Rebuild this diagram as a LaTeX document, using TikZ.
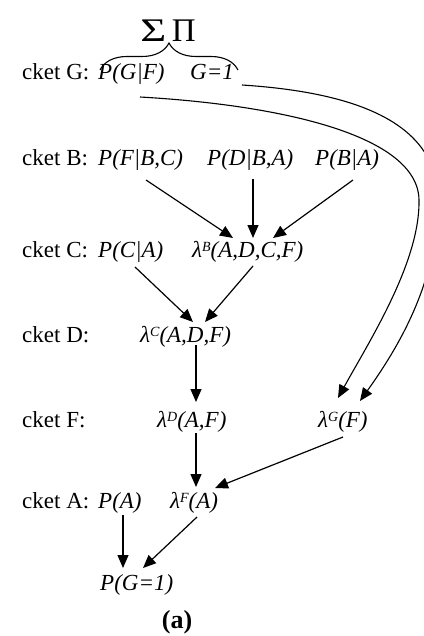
\documentclass[tikz,border=0pt]{standalone}
\usepackage{fontspec}
\setmainfont{Liberation Serif}
\usetikzlibrary{arrows.meta,decorations.pathreplacing}
\newcommand\mysup[1]{\raisebox{6pt}{\fontsize{14}{14}\selectfont #1}}
\begin{document}
\begin{tikzpicture}[x=1pt,y=-1pt,
  txt/.style={inner sep=0pt, anchor=base west, font=\fontsize{23}{27}\selectfont},
  itxt/.style={txt, font=\fontsize{23}{27}\selectfont\itshape},
  arr/.style={line width=1.2pt, -{Triangle[length=13pt,width=11pt]}},
  curv/.style={line width=1.1pt, -{Triangle[length=13pt,width=11pt]}}]
\useasboundingbox (0,0) rectangle (423,636);
% sum-product header
\node[inner sep=0pt, anchor=base, font=\fontsize{33}{36}\selectfont] (sp) at (168,42) {\scalebox{1.35}[1]{Σ}\,Π};
% rows
\node[txt]  (lG)   at (22,80)  {cket G:};
\node[itxt] (pGF)  at (98,80)  {P(G|F)};
\node[itxt] (G1)   at (190,80) {G=1};
\node[txt]  (lB)   at (22,166) {cket B:};
\node[itxt] (pFBC) at (98,166) {P(F|B,C)};
\node[itxt] (pDBA) at (207,166) {P(D|B,A)};
\node[itxt] (pBA)  at (315,166) {P(B|A)};
\node[txt]  (lC)   at (22,257) {cket C:};
\node[itxt] (pCA)  at (98,257) {P(C|A)};
\node[itxt] (lamB) at (192,257) {λ\mysup{B}(A,D,C,F)};
\node[txt]  (lD)   at (22,342) {cket D:};
\node[itxt] (lamC) at (140,342) {λ\mysup{C}(A,D,F)};
\node[txt]  (lF)   at (22,427) {cket F:};
\node[itxt] (lamD) at (157,427) {λ\mysup{D}(A,F)};
\node[itxt] (lamG) at (318,427) {λ\mysup{G}(F)};
\node[txt]  (lA)   at (22,508) {cket A:};
\node[itxt] (pA)   at (98,508) {P(A)};
\node[itxt] (lamF) at (170,508) {λ\mysup{F}(A)};
\node[itxt] (pG1)  at (100,590) {P(G=1)};
\node[inner sep=0pt, anchor=base, font=\fontsize{26}{30}\selectfont\bfseries] (cap) at (177,628) {(a)};
% brace
\draw[line width=1.1pt, decorate, decoration={brace, amplitude=27pt}]
  ([shift={(2,-10)}]pGF.base west) -- ([shift={(48,-10)}]G1.base west);
% arrows
\draw[arr] ([shift={(48,14)}]pFBC.base west) -- ([shift={(41,-19)}]lamB.base west);
\draw[arr] ([shift={(46,13)}]pDBA.base west) -- ([shift={(61,-19)}]lamB.base west);
\draw[arr] ([shift={(38,14)}]pBA.base west) -- ([shift={(81,-19)}]lamB.base west);
\draw[arr] ([shift={(37,10)}]pCA.base west) -- ([shift={(53,-20)}]lamC.base west);
\draw[arr] ([shift={(61,9)}]lamB.base west) -- ([shift={(65,-20)}]lamC.base west);
\draw[arr] ([shift={(56,3)}]lamC.base west) -- ([shift={(39,-25)}]lamD.base west);
\draw[arr] ([shift={(39,6)}]lamD.base west) -- ([shift={(26,-21)}]lamF.base west);
\draw[arr] ([shift={(25,10)}]lamG.base west) -- ([shift={(45,-20)}]lamF.base west);
\draw[arr] ([shift={(25,7)}]pA.base west) -- ([shift={(23,-22)}]pG1.base west);
\draw[arr] ([shift={(27,9)}]lamF.base west) -- ([shift={(43,-22)}]pG1.base west);
% curved arrows to lambda^G(F)
\draw[curv] ([shift={(42,17)}]pGF.base west) .. controls (280,105) and (418,135) .. (419,200)
  .. controls (420,262) and (370,340) .. ([shift={(20,-29)}]lamG.base west);
\draw[curv] ([shift={(52,5)}]G1.base west) .. controls (350,92) and (438,120) .. (438,200)
  .. controls (438,280) and (400,345) .. ([shift={(42,-26)}]lamG.base west);
\end{tikzpicture}
\end{document}
